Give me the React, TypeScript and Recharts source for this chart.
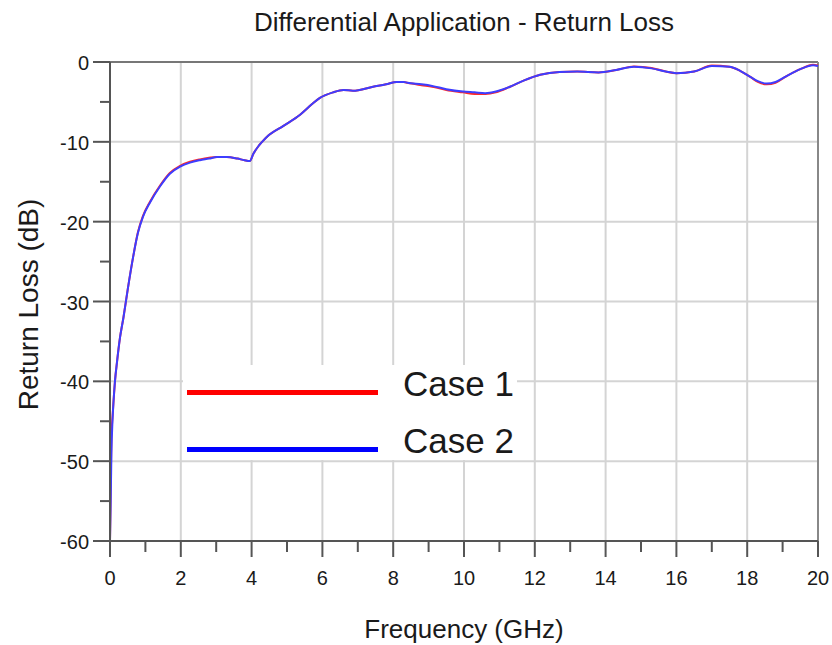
import React from 'react';
import {
  LineChart,
  Line,
  XAxis,
  YAxis,
  CartesianGrid,
  ReferenceLine,
  Legend,
} from 'recharts';

// frequency points (GHz)
const freq = [
  0, 0.02, 0.04, 0.07, 0.1, 0.14, 0.2, 0.28, 0.38, 0.5, 0.65, 0.79, 0.93, 1.13,
  1.41, 1.69, 1.98, 2.26, 2.54, 2.8, 3.02, 3.3, 3.6, 3.8, 3.95, 4.05, 4.43, 4.9,
  5.37, 5.7, 5.93, 6.3, 6.6, 6.86, 7.43, 7.8, 8.1, 8.3, 8.4, 8.8, 9.1, 9.5,
  9.97, 10.3, 10.6, 10.9, 11.3, 11.7, 12.15, 12.7, 13.2, 13.8, 14.3, 14.8, 15.3,
  15.7, 16.0, 16.5, 17.0, 17.5, 17.8, 18.1, 18.3, 18.55, 18.8, 19.1, 19.5,
  19.86, 20,
];

// return loss (dB)
const case1 = [
  -60, -53, -47, -44.5, -42.5, -40, -37.5, -34.6, -32, -28.5, -24.5, -21.3,
  -19.3, -17.5, -15.5, -13.9, -13.0, -12.5, -12.2, -12.0, -11.9, -11.9, -12.1,
  -12.3, -12.4, -11.5, -9.4, -8.0, -6.6, -5.3, -4.5, -3.8, -3.5, -3.6, -3.1,
  -2.8, -2.5, -2.5, -2.6, -2.9, -3.1, -3.5, -3.8, -4.0, -4.0, -3.8, -3.1, -2.3,
  -1.6, -1.25, -1.2, -1.3, -1.0, -0.55, -0.75, -1.2, -1.4, -1.2, -0.45, -0.6,
  -1.1, -1.9, -2.5, -2.8, -2.6, -1.8, -0.9, -0.35, -0.45,
];

const case2 = [
  -60, -55, -49, -45, -42.5, -40, -37.5, -34.6, -32, -28.5, -24.5, -21.4,
  -19.4, -17.6, -15.6, -14.0, -13.1, -12.6, -12.3, -12.1, -11.9, -11.9, -12.1,
  -12.3, -12.4, -11.5, -9.4, -8.0, -6.6, -5.3, -4.5, -3.8, -3.5, -3.6, -3.1,
  -2.8, -2.5, -2.5, -2.6, -2.8, -3.0, -3.4, -3.7, -3.8, -3.9, -3.7, -3.1, -2.3,
  -1.6, -1.25, -1.2, -1.3, -1.0, -0.6, -0.8, -1.2, -1.4, -1.2, -0.5, -0.6,
  -1.1, -1.9, -2.4, -2.7, -2.5, -1.8, -0.9, -0.4, -0.5,
];

const xTicks = [0, 1, 2, 3, 4, 5, 6, 7, 8, 9, 10, 11, 12, 13, 14, 15, 16, 17, 18, 19, 20];
const yTicks = [-60, -55, -50, -45, -40, -35, -30, -25, -20, -15, -10, -5, 0];
const xGrid = [2, 4, 6, 8, 10, 12, 14, 16, 18];
const yGrid = [-50, -40, -30, -20, -10];

const data = freq.map((f, i) => ({ f, case1: case1[i], case2: case2[i] }));

const FONT = '"Liberation Sans", Arial, sans-serif';
const AXIS = '#555';
const TEXT = '#1a1a1a';

const XTick = (props: any) => {
  const { x, y, payload } = props;
  const major = payload.value % 2 === 0;
  return (
    <g>
      <line x1={x} x2={x} y1={y} y2={y + (major ? 16 : 11)} stroke={AXIS} strokeWidth={2} />
      {major && (
        <text x={x} y={y + 37} textAnchor="middle" dominantBaseline="central" fontSize={20} fill={TEXT} fontFamily={FONT}>
          {payload.value}
        </text>
      )}
    </g>
  );
};

const YTick = (props: any) => {
  const { x, y, payload } = props;
  const major = payload.value % 10 === 0;
  return (
    <g>
      <line x1={x} x2={x - (major ? 17 : 10)} y1={y} y2={y} stroke={AXIS} strokeWidth={2} />
      {major && (
        <text x={x - 21} y={y + 1} textAnchor="end" dominantBaseline="central" fontSize={20} fill={TEXT} fontFamily={FONT}>
          {payload.value}
        </text>
      )}
    </g>
  );
};

const legendColors: Record<string, string> = { 'Case 1': '#ff0000', 'Case 2': '#0000ff' };

const LegendBox = (props: any) => {
  const { payload } = props;
  return (
    <div style={{ position: 'relative', width: 334, height: 95, background: '#fff' }}>
      {(payload || []).map((entry: any, i: number) => (
        <React.Fragment key={entry.value}>
          <div
            style={{
              position: 'absolute',
              left: 4,
              top: 25 + i * 57,
              width: 191,
              height: 5,
              background: legendColors[entry.value] || entry.color,
            }}
          />
          <div
            style={{
              position: 'absolute',
              left: 220,
              top: 1 + i * 57,
              fontSize: 35,
              lineHeight: '36px',
              fontFamily: FONT,
              color: TEXT,
              whiteSpace: 'nowrap',
            }}
          >
            {entry.value}
          </div>
        </React.Fragment>
      ))}
    </div>
  );
};

export default function App() {
  return (
    <div style={{ position: 'absolute', left: 0, top: 0, width: 832, height: 645, background: '#fff' }}>
      <div
        style={{
          position: 'absolute',
          left: 110,
          top: 7,
          width: 708,
          textAlign: 'center',
          fontFamily: FONT,
          fontSize: 26,
          lineHeight: '30px',
          color: TEXT,
        }}
      >
        Differential Application - Return Loss
      </div>
      <LineChart width={832} height={645} data={data} margin={{ top: 62, right: 14, bottom: 0, left: 0 }}>
        <CartesianGrid
          stroke="#d4d4d4"
          strokeWidth={2}
          horizontalValues={yGrid}
          verticalValues={xGrid}
        />
        <XAxis
          dataKey="f"
          type="number"
          domain={[0, 20]}
          ticks={xTicks}
          interval={0}
          height={104}
          tickSize={0}
          tickMargin={0}
          tickLine={false}
          tick={<XTick />}
          axisLine={{ stroke: AXIS, strokeWidth: 2 }}
          label={(p: any) => {
            const vb = p.viewBox;
            return (
              <text
                x={vb.x + vb.width / 2}
                y={vb.y + 88}
                textAnchor="middle"
                dominantBaseline="central"
                fontSize={26}
                fill={TEXT}
                fontFamily={FONT}
              >
                Frequency (GHz)
              </text>
            );
          }}
        />
        <YAxis
          type="number"
          domain={[-60, 0]}
          ticks={yTicks}
          interval={0}
          width={110}
          tickSize={0}
          tickMargin={0}
          tickLine={false}
          tick={<YTick />}
          axisLine={{ stroke: AXIS, strokeWidth: 2 }}
          label={(p: any) => {
            const vb = p.viewBox;
            const cy = vb.y + vb.height / 2 + 3;
            return (
              <text
                x={28}
                y={cy}
                transform={`rotate(-90 28 ${cy})`}
                textAnchor="middle"
                dominantBaseline="central"
                fontSize={28}
                fill={TEXT}
                fontFamily={FONT}
              >
                Return Loss (dB)
              </text>
            );
          }}
        />
        <ReferenceLine y={0} stroke="#777" strokeWidth={2} />
        <ReferenceLine x={20} stroke="#888" strokeWidth={2} />
        <Legend
          layout="horizontal"
          align="center"
          verticalAlign="middle"
          content={<LegendBox />}
          wrapperStyle={{ left: 183, top: 365, width: 334, height: 95 }}
        />
        <Line
          name="Case 1"
          dataKey="case1"
          type="monotone"
          stroke="#ff2a2a"
          strokeWidth={2}
          dot={false}
          activeDot={false}
          isAnimationActive={false}
        />
        <Line
          name="Case 2"
          dataKey="case2"
          type="monotone"
          stroke="#3d3dff"
          strokeWidth={2}
          dot={false}
          activeDot={false}
          isAnimationActive={false}
        />
      </LineChart>
    </div>
  );
}
